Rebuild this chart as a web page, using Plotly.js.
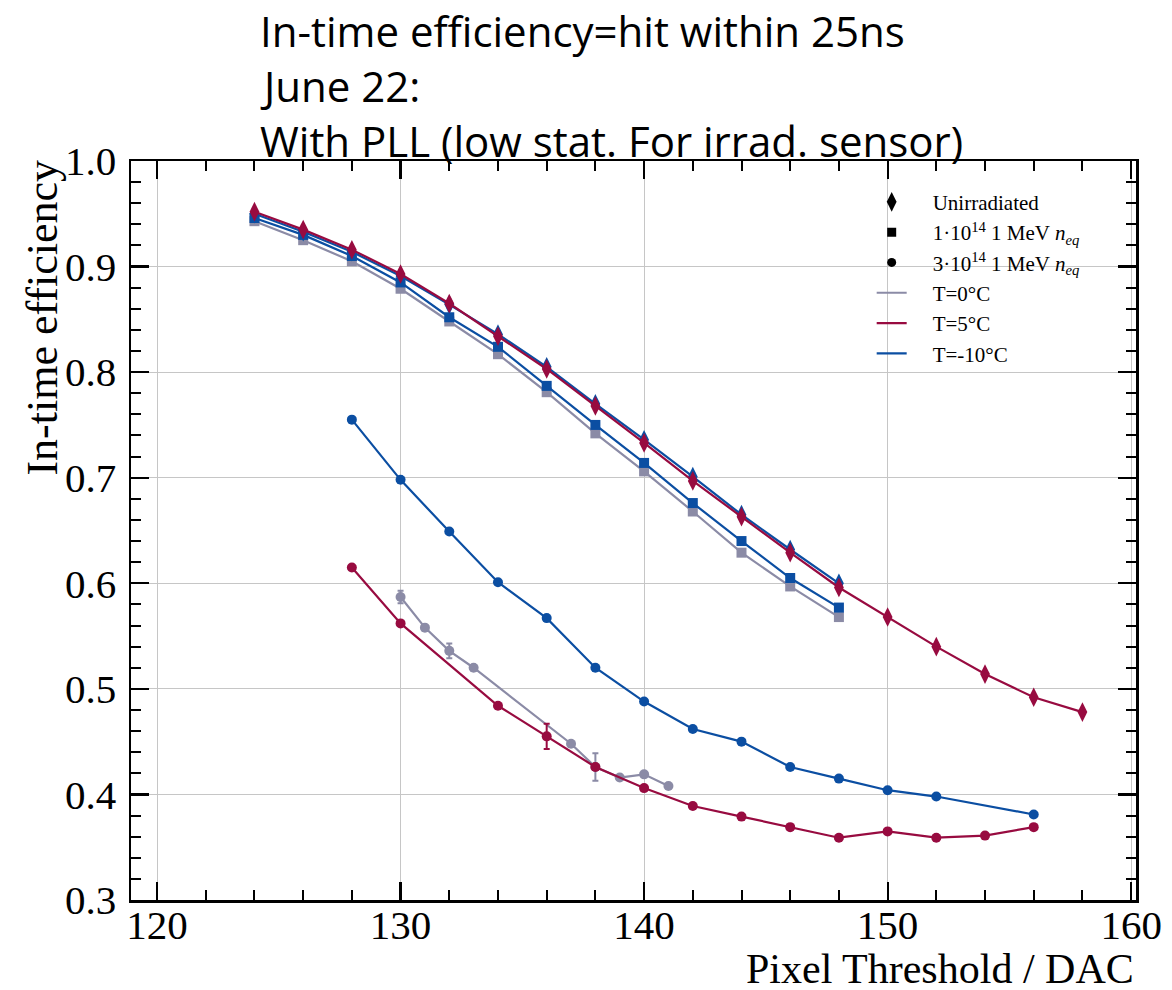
<!DOCTYPE html>
<html>
<head>
<meta charset="utf-8">
<script src="https://cdn.plot.ly/plotly-3.0.1.min.js"></script>
<style>html,body{margin:0;padding:0;background:#fff;}#chart{width:1172px;height:990px;}</style>
</head>
<body>
<div id="chart"></div>
<script>
// ---- data ----
// Unirradiated
const unirrX = [124,126,128,130,132,134,136,138,140,142,144,146,148,150,152,154,156,158];
const unirrT5 = [0.952,0.935,0.916,0.893,0.865,0.834,0.803,0.768,0.733,0.697,0.663,0.629,0.596,0.568,0.540,0.514,0.492,0.478];
const unirrX10 = [124,126,128,130,132,134,136,138,140,142,144,146,148];
const unirrTm10 = [0.950,0.933,0.914,0.891,0.864,0.836,0.805,0.770,0.736,0.701,0.665,0.632,0.600];
// 1e14 neq
const irr1X = [124,126,128,130,132,134,136,138,140,142,144,146,148];
const irr1T0 = [0.943,0.925,0.905,0.879,0.848,0.817,0.781,0.742,0.706,0.668,0.629,0.597,0.568];
const irr1Tm10 = [0.946,0.930,0.910,0.885,0.852,0.824,0.787,0.750,0.714,0.676,0.640,0.605,0.577];
// 3e14 neq
const irr3XT0 = [130,131,132,133,137,138,139,140,141];
const irr3T0 = [0.587,0.558,0.536,0.520,0.448,0.426,0.416,0.419,0.408];
const irr3T0err = [0.006,0,0.007,0,0,0.013,0,0,0];
const irr3XT5 = [128,130,134,136,138,140,142,144,146,148,150,152,154,156];
const irr3T5 = [0.615,0.562,0.484,0.455,0.426,0.406,0.389,0.379,0.369,0.359,0.365,0.359,0.361,0.369];
const irr3T5err = [0,0,0,0.012,0,0,0,0,0,0,0,0,0,0];
const irr3XTm10 = [128,130,132,134,136,138,140,142,144,146,148,150,152,156];
const irr3Tm10 = [0.755,0.698,0.649,0.601,0.567,0.520,0.488,0.462,0.450,0.426,0.415,0.404,0.398,0.381];

const xTicks = [120,130,140,150,160];
const yTicks = [0.3,0.4,0.5,0.6,0.7,0.8,0.9,1.0];

const cGray = '#8b8ba6', cRed = '#980b40', cBlue = '#0b4ea2';
const lw = 2.2;

function tr(x, y, color, symbol, size, err) {
  const t = {x: x, y: y, type: 'scatter', mode: 'lines+markers',
    line: {color: color, width: lw},
    marker: {color: color, symbol: symbol, size: size},
    showlegend: false, hoverinfo: 'x+y'};
  if (err) t.error_y = {type: 'data', array: err, visible: true, color: color, thickness: 2, width: 3};
  return t;
}

const pad = '\u00a0\u00a0\u00a0\u00a0';
const traces = [
  tr(irr1X, irr1T0, cGray, 'square', 10),
  tr(irr1X, irr1Tm10, cBlue, 'square', 10),
  tr(unirrX10, unirrTm10, cBlue, 'diamond-tall', 14),
  tr(unirrX, unirrT5, cRed, 'diamond-tall', 14),
  tr(irr3XT0, irr3T0, cGray, 'circle', 10, irr3T0err),
  tr(irr3XTm10, irr3Tm10, cBlue, 'circle', 10),
  tr(irr3XT5, irr3T5, cRed, 'circle', 10, irr3T5err),
  // legend entries
  {x:[null], y:[null], type:'scatter', mode:'markers', name: pad + 'Unirradiated', marker:{color:'black', symbol:'diamond-tall', size:14}},
  {x:[null], y:[null], type:'scatter', mode:'markers', name: pad + '1·10<sup>14</sup> 1 MeV <i>n</i><sub><i>eq</i></sub>', marker:{color:'black', symbol:'square', size:9}},
  {x:[null], y:[null], type:'scatter', mode:'markers', name: pad + '3·10<sup>14</sup> 1 MeV <i>n</i><sub><i>eq</i></sub>', marker:{color:'black', symbol:'circle', size:9}},
  {x:[null], y:[null], type:'scatter', mode:'lines', name: pad + 'T=0°C', line:{color:cGray, width:lw}},
  {x:[null], y:[null], type:'scatter', mode:'lines', name: pad + 'T=5°C', line:{color:cRed, width:lw}},
  {x:[null], y:[null], type:'scatter', mode:'lines', name: pad + 'T=-10°C', line:{color:cBlue, width:lw}}
];

const serif = 'Liberation Serif, Times New Roman, serif';
const sans = 'Open Sans, Noto Sans, sans-serif';
const axisCommon = {
  showline: true, linecolor: 'black', linewidth: 2.5, mirror: 'ticks',
  ticks: 'inside', ticklen: 18, tickwidth: 2.2, tickcolor: 'black',
  showgrid: true, gridcolor: '#c6c6c6', gridwidth: 1, zeroline: false,
  tickfont: {family: serif, size: 41, color: 'black'}
};

const layout = {
  width: 1172, height: 990,
  margin: {l: 131, r: 36, t: 161, b: 90},
  paper_bgcolor: 'white', plot_bgcolor: 'white',
  showlegend: true,
  legend: {x: 0.737, y: 0.972, xanchor: 'left', yanchor: 'top', bgcolor: 'rgba(0,0,0,0)',
    font: {family: serif, size: 21, color: 'black'}, tracegroupgap: 0, itemwidth: 30},
  xaxis: Object.assign({}, axisCommon, {range: [118.93, 160.2], tickmode: 'array', tickvals: xTicks,
    ticktext: xTicks.map(String), ticklabelstandoff: -13,
    minor: {dtick: 2, tick0: 120, ticks: 'inside', ticklen: 10, tickwidth: 2, tickcolor: 'black', showgrid: false}}),
  yaxis: Object.assign({}, axisCommon, {range: [0.3, 1.0], tickmode: 'array', tickvals: yTicks,
    ticktext: yTicks.map(v => v.toFixed(1)), ticklabelstandoff: 4,
    minor: {dtick: 0.02, tick0: 0.3, ticks: 'inside', ticklen: 10, tickwidth: 2, tickcolor: 'black', showgrid: false}}),
  annotations: [
    {text: 'In-time efficiency=hit within 25ns', xref: 'paper', yref: 'paper', x: 0.1264, y: 1.177,
      xanchor: 'left', yanchor: 'middle', showarrow: false, font: {family: sans, size: 42, color: 'black'}},
    {text: 'June 22:', xref: 'paper', yref: 'paper', x: 0.1264, y: 1.1015,
      xanchor: 'left', yanchor: 'middle', showarrow: false, font: {family: sans, size: 42, color: 'black'}},
    {text: 'With PLL (low stat. For irrad. sensor)', xref: 'paper', yref: 'paper', x: 0.1264, y: 1.028,
      xanchor: 'left', yanchor: 'middle', showarrow: false, font: {family: sans, size: 42, color: 'black'}},
    {text: 'Pixel Threshold / DAC', xref: 'paper', yref: 'paper', x: 1.0, y: -0.094,
      xanchor: 'right', yanchor: 'middle', showarrow: false, font: {family: serif, size: 42, color: 'black'}},
    {text: 'In-time efficiency', xref: 'paper', yref: 'paper', x: -0.089, y: 1.004, textangle: -90,
      xanchor: 'center', yanchor: 'top', showarrow: false, font: {family: serif, size: 44, color: 'black'}}
  ]
};

Plotly.newPlot('chart', traces, layout, {displayModeBar: false, staticPlot: true});
</script>
</body>
</html>
